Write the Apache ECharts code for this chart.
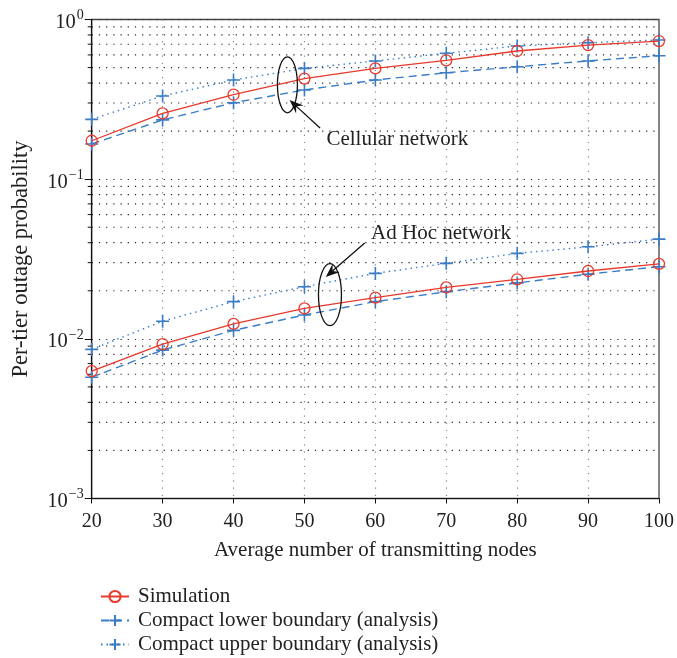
<!DOCTYPE html>
<html><head><meta charset="utf-8">
<script src="https://cdn.jsdelivr.net/npm/echarts@6/dist/echarts.min.js"></script>
<style>html,body{margin:0;padding:0;background:#fff}#c{width:677px;height:658px}</style>
</head><body><div id="c"></div>
<script>
var nodes = [20, 30, 40, 50, 60, 70, 80, 90, 100];
var cellSim   = [0.174, 0.258, 0.338, 0.426, 0.494, 0.555, 0.635, 0.692, 0.733];
var cellLower = [0.166, 0.235, 0.301, 0.362, 0.418, 0.464, 0.506, 0.550, 0.593];
var cellUpper = [0.237, 0.332, 0.418, 0.494, 0.550, 0.614, 0.683, 0.716, 0.744];
var adSim     = [0.00628, 0.00927, 0.0124, 0.0155, 0.0181, 0.0210, 0.0236, 0.0266, 0.0295];
var adLower   = [0.00575, 0.00850, 0.0113, 0.0141, 0.0171, 0.0197, 0.0224, 0.0254, 0.0283];
var adUpper   = [0.00859, 0.0129, 0.0171, 0.0212, 0.0257, 0.0297, 0.0343, 0.0377, 0.0421];
var seriesNames = ['Simulation', 'Compact lower boundary (analysis)', 'Compact upper boundary (analysis)'];
var decades = [0.001, 0.01, 0.1];
var minorMultipliers = [2, 3, 4, 5, 6, 7, 8, 9];

var RED = '#e8392c', BLUE = '#3a7dc6';
var FONT = '"Liberation Serif", "DejaVu Serif", serif';
var PLUS = 'path://M0,5 L10,5 M5,0 L5,10';

function pairs(ys){ return nodes.map(function(x,i){ return [x, ys[i]]; }); }
function simSeries(d){ return {name: seriesNames[0], type:'line', data: pairs(d), symbol:'circle', symbolSize:11,
  itemStyle:{color:'rgba(255,255,255,0)', borderColor:RED, borderWidth:1.3}, lineStyle:{color:RED, width:1.3}, z:5}; }
function lowSeries(d){ return {name: seriesNames[1], type:'line', data: pairs(d), symbol:PLUS, symbolSize:13,
  itemStyle:{color:'none', borderColor:BLUE, borderWidth:1.6}, lineStyle:{color:BLUE, width:1.4, type:[8,5]}, z:4}; }
function upSeries(d){ return {name: seriesNames[2], type:'line', data: pairs(d), symbol:PLUS, symbolSize:13,
  itemStyle:{color:'none', borderColor:BLUE, borderWidth:1.6}, lineStyle:{color:BLUE, width:1.4, type:[1.5,4]}, z:4}; }

var chart = echarts.init(document.getElementById('c'));
var option = {
  animation:false,
  grid:{left:91.7, right:17, top:19.5, bottom:159.5, show:true, borderColor:'#444', borderWidth:1.3},
  xAxis:{type:'value', min:20, max:100, interval:10,
    axisLine:{onZero:false, lineStyle:{color:'#111', width:1.2}},
    axisTick:{show:true, inside:false, length:5, lineStyle:{color:'#111'}},
    axisLabel:{fontFamily:FONT, fontSize:20, color:'#222', margin:13},
    splitLine:{show:true, lineStyle:{color:'#888', type:[1.2,6], width:1.2}},
    name:'Average number of transmitting nodes', nameLocation:'middle', nameGap:41,
    nameTextStyle:{fontFamily:FONT, fontSize:21, color:'#222'}},
  yAxis:{type:'log', logBase:10, min:0.001, max:1,
    axisLine:{lineStyle:{color:'#111', width:1.2}},
    axisTick:{show:true, length:7, lineStyle:{color:'#111'}},
    splitLine:{show:true, lineStyle:{color:'#222', type:[1.2,6], width:1.2}},
    axisLabel:{margin:8, formatter:function(v){ var e=Math.round(Math.log10(v)); return '{b|10}{s|'+(e<0?'\u2212'+(-e):e)+'}'; },
      rich:{b:{fontFamily:FONT, fontSize:20.5, color:'#222', padding:[6,0,0,0]}, s:{fontFamily:FONT, fontSize:14, color:'#222', padding:[0,0,8,1]}}},
    name:'Per-tier outage probability', nameLocation:'middle', nameGap:59,
    nameTextStyle:{fontFamily:FONT, fontSize:22.5, color:'#222'}},
  legend:{orient:'vertical', left:100, top:586, padding:0, itemWidth:28, itemHeight:14, itemGap:3, height:90,
    data:seriesNames, textStyle:{fontFamily:FONT, fontSize:21, lineHeight:21, color:'#222', padding:[0,0,0,4]}, selectedMode:false},
  series:[simSeries(cellSim), lowSeries(cellLower), upSeries(cellUpper),
          simSeries(adSim), lowSeries(adLower), upSeries(adUpper)]
};
chart.setOption(option);

function px(x,y){ return chart.convertToPixel({gridIndex:0}, [x,y]); }
var g = [];
var xl = px(20, 1)[0], xr = px(100, 1)[0];
decades.forEach(function(d){
  minorMultipliers.forEach(function(m){
    var y = px(20, d*m)[1];
    g.push({type:'line', shape:{x1:xl, y1:y, x2:xr, y2:y}, style:{stroke:'#222', lineWidth:1.2, lineDash:[1.2,6]}, z:1, silent:true});
    g.push({type:'line', shape:{x1:xl-4, y1:y, x2:xl, y2:y}, style:{stroke:'#111', lineWidth:1}, z:1, silent:true});
  });
});
function arrow(from, to){
  var dx=to[0]-from[0], dy=to[1]-from[1], L=Math.sqrt(dx*dx+dy*dy), ux=dx/L, uy=dy/L, nx=-uy, ny=ux;
  var hl=14, hw=5.5, notch=9;
  var base=[to[0]-ux*hl, to[1]-uy*hl], nb=[to[0]-ux*notch, to[1]-uy*notch];
  return [
    {type:'line', shape:{x1:from[0], y1:from[1], x2:nb[0], y2:nb[1]}, style:{stroke:'#111', lineWidth:1.3}, z:10},
    {type:'polygon', shape:{points:[to, [base[0]+nx*hw, base[1]+ny*hw], nb, [base[0]-nx*hw, base[1]-ny*hw]]}, style:{fill:'#111'}, z:10}
  ];
}
var cE = px(47.6, 0.390), aE = px(53.6, 0.0189);
g.push({type:'ellipse', shape:{cx:cE[0], cy:cE[1], rx:10, ry:28}, style:{fill:'none', stroke:'#111', lineWidth:1.3}, z:10});
g.push({type:'ellipse', shape:{cx:aE[0], cy:aE[1], rx:11.5, ry:31}, style:{fill:'none', stroke:'#111', lineWidth:1.3}, z:10});
g = g.concat(arrow(px(52.2, 0.209), px(47.9, 0.313)));
g = g.concat(arrow(px(58.5, 0.0398), px(53.0, 0.0244)));
var ct = px(53.1, 0.176), at = px(59.4, 0.0459);
g.push({type:'text', x:ct[0], y:ct[1], style:{text:'Cellular network', fontFamily:FONT, fontSize:21, fill:'#222', verticalAlign:'middle'}, z:10});
g.push({type:'text', x:at[0], y:at[1], style:{text:'Ad Hoc network', fontFamily:FONT, fontSize:21, fill:'#222', verticalAlign:'middle'}, z:10});
chart.setOption({graphic:g});
</script></body></html>
